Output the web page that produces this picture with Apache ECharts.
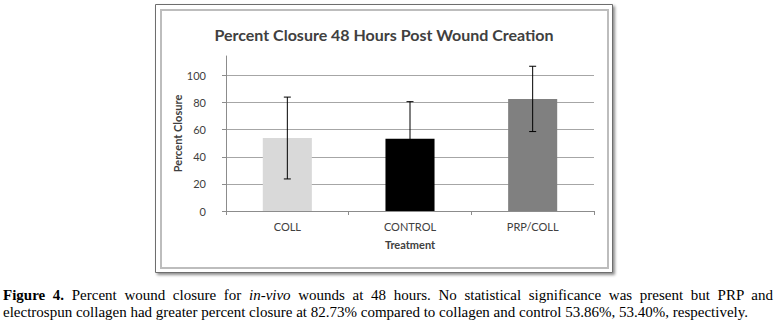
<!DOCTYPE html>
<html>
<head>
<meta charset="utf-8">
<script src="https://cdn.jsdelivr.net/npm/echarts@6/dist/echarts.min.js"></script>
<style>
  html, body { margin: 0; padding: 0; background: #fff; }
  #wrap { position: relative; width: 780px; height: 328px; overflow: hidden; }
  #chart { position: absolute; left: 0; top: 0; width: 780px; height: 328px; }
  #caption { position: absolute; left: 3px; top: 287px; width: 770px;
    font-family: "Liberation Serif", "Times New Roman", serif; font-size: 15px; line-height: 17px; color: #000; }
  #caption .l1 { text-align: justify; text-align-last: justify; white-space: nowrap; }
  #caption .l2 { white-space: nowrap; }
</style>
</head>
<body>
<div id="wrap">
  <div id="chart"></div>
  <div id="caption">
    <div class="l1"><b>Figure 4.</b> Percent wound closure for <i>in-vivo</i> wounds at 48 hours. No statistical significance was present but PRP and</div>
    <div class="l2">electrospun collagen had greater percent closure at 82.73% compared to collagen and control 53.86%, 53.40%, respectively.</div>
  </div>
</div>
<script>
// ---- data ----
const categories = ['COLL', 'CONTROL', 'PRP/COLL'];
const closureMeans = [53.86, 53.40, 82.73];
const closureSD = [30.2, 27.3, 24.1];
const barColors = ['#d9d9d9', '#000000', '#808080'];
const yTicks = [0, 20, 40, 60, 80, 100];

const chart = echarts.init(document.getElementById('chart'), null, { renderer: 'svg' });

const errData = closureMeans.map((m, i) => [i, m - closureSD[i], m + closureSD[i]]);

const option = {
  animation: false,
  backgroundColor: '#fff',
  graphic: {
    elements: [
      { type: 'rect', z: -10, shape: { x: 155.5, y: 4.5, width: 457, height: 268 },
        style: { fill: '#fff', stroke: '#6e6e6e', lineWidth: 1,
          shadowBlur: 3, shadowOffsetX: 2, shadowOffsetY: 2, shadowColor: 'rgba(0,0,0,0.45)' } },
      { type: 'rect', z: -9, shape: { x: 161, y: 10, width: 447, height: 258 },
        style: { fill: '#fff', stroke: '#bdbdbd', lineWidth: 2 } }
    ]
  },
  title: {
    text: 'Percent Closure 48 Hours Post Wound Creation',
    left: 379, top: 21, textAlign: 'center',
    textStyle: { fontFamily: 'Lato', fontWeight: 'bold', fontSize: 16, color: '#404040' }
  },
  grid: { left: 226, right: 186, top: 56, bottom: 117, containLabel: false },
  xAxis: {
    type: 'category',
    data: categories,
    name: 'Treatment',
    nameLocation: 'middle',
    nameGap: 28,
    nameTextStyle: { fontFamily: 'Lato', fontWeight: 'bold', fontSize: 11, color: '#404040' },
    axisLine: { lineStyle: { color: '#8c8c8c', width: 1 } },
    axisTick: { show: true, alignWithLabel: false, length: 4, lineStyle: { color: '#8c8c8c' } },
    axisLabel: { margin: 10, fontFamily: 'Lato', fontSize: 11, color: '#404040' }
  },
  yAxis: {
    type: 'value',
    min: 0, max: 114.4, interval: 20,
    name: 'Percent Closure',
    nameLocation: 'middle',
    nameGap: 37,
    nameTextStyle: { fontFamily: 'Lato', fontWeight: 'bold', fontSize: 11, color: '#404040' },
    axisLine: { show: true, lineStyle: { color: '#8c8c8c', width: 1 } },
    axisTick: { show: true, length: 4, lineStyle: { color: '#8c8c8c' } },
    axisLabel: {
      margin: 20, fontFamily: 'Lato', fontSize: 11, color: '#404040',
      showMaxLabel: false,
      formatter: v => (yTicks.indexOf(v) >= 0 ? String(v) : '')
    },
    splitLine: { show: true, showMaxLine: false, lineStyle: { color: '#a6a6a6', width: 1 } }
  },
  series: [
    {
      type: 'bar',
      barWidth: '40%',
      data: closureMeans.map((v, i) => ({ value: v, itemStyle: { color: barColors[i] } })),
      z: 2
    },
    {
      type: 'custom',
      z: 5,
      data: errData,
      renderItem: function (params, api) {
        const x = api.value(0);
        const lo = api.coord([x, api.value(1)]);
        const hi = api.coord([x, api.value(2)]);
        const hw = 3.5;
        const st = { stroke: '#000', lineWidth: 1 };
        return {
          type: 'group',
          children: [
            { type: 'line', shape: { x1: lo[0], y1: lo[1], x2: hi[0], y2: hi[1] }, style: st },
            { type: 'line', shape: { x1: lo[0] - hw, y1: lo[1], x2: lo[0] + hw, y2: lo[1] }, style: st },
            { type: 'line', shape: { x1: hi[0] - hw, y1: hi[1], x2: hi[0] + hw, y2: hi[1] }, style: st }
          ]
        };
      }
    }
  ]
};
chart.setOption(option);
</script>
</body>
</html>
